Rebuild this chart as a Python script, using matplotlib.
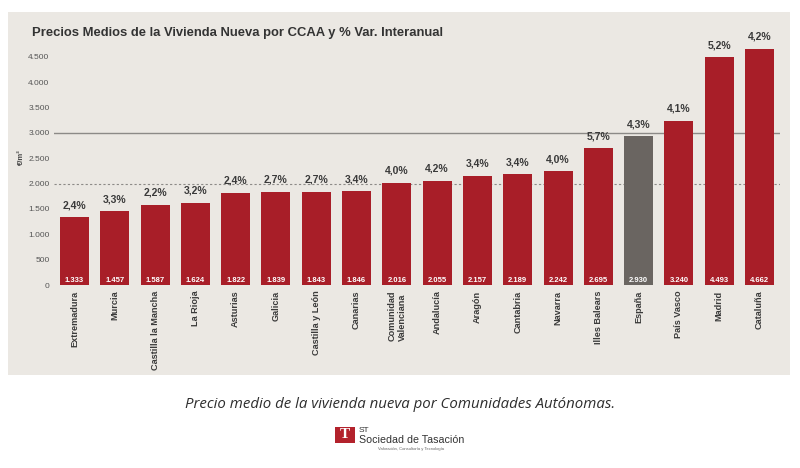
import matplotlib.pyplot as plt
from matplotlib.patches import Rectangle
import numpy as np

plt.rcParams['font.family'] = ['Liberation Sans', 'DejaVu Sans']

# data
regions = ['Extremadura', 'Murcia', 'Castilla la Mancha', 'La Rioja', 'Asturias',
           'Galicia', 'Castilla y León', 'Canarias', 'Comunidad\nValenciana',
           'Andalucía', 'Aragón', 'Cantabria', 'Navarra', 'Illes Balears',
           'España', 'País Vasco', 'Madrid', 'Cataluña']
prices = [1333, 1457, 1587, 1624, 1822, 1839, 1843, 1846, 2016,
          2055, 2157, 2189, 2242, 2695, 2930, 3240, 4493, 4662]
yoy = ['2,4%', '3,3%', '2,2%', '3,2%', '2,4%', '2,7%', '2,7%', '3,4%', '4,0%',
       '4,2%', '3,4%', '3,4%', '4,0%', '5,7%', '4,3%', '4,1%', '5,2%', '4,2%']
yticks = [0, 500, 1000, 1500, 2000, 2500, 3000, 3500, 4000, 4500]

RED = '#A81E28'
GREY_BAR = '#6A6561'
PANEL = '#EBE8E3'

fig = plt.figure(figsize=(8, 4.68), dpi=100)
fig.patch.set_facecolor('white')

# grey panel behind the chart
panel = Rectangle((8/800, 1-375/468), 782/800, 363/468, transform=fig.transFigure,
                  facecolor=PANEL, edgecolor='none', zorder=-1)
fig.patches.append(panel)

ax = fig.add_axes([54.3/800, 1-285/468, 725.4/800, 253.5/468])
ax.set_facecolor('none')
x = np.arange(len(regions))
colors = [GREY_BAR if r == 'España' else RED for r in regions]
ax.bar(x, prices, width=0.72, color=colors, zorder=3)

ax.set_xlim(-0.5, len(regions) - 0.5)
ax.set_ylim(0, 5000)

# reference lines
ax.axhline(3000, color='#8C8A87', lw=1.0, zorder=1)
ax.axhline(2000, color='#8C8A87', lw=0.8, ls=(0, (2, 2)), zorder=1)

for xi, p, v in zip(x, prices, yoy):
    ax.annotate(v, (xi, p), xytext=(0, 5), textcoords='offset points',
                ha='center', va='bottom', fontsize=7.5, fontweight='bold', color='#3A3A3A')
    ax.text(xi, 90, f'{p:,}'.replace(',', '.'), ha='center', va='center',
            fontsize=5.5, fontweight='bold', color='white', zorder=4)

ax.set_yticks(yticks)
ax.set_yticklabels([f'{t:,}'.replace(',', '.') for t in yticks], fontsize=6, color='#555555')
ax.tick_params(axis='y', length=0, pad=3.5)
ax.set_xticks(x)
ax.set_xticklabels(regions, rotation=90, fontsize=6.6, fontweight='bold', color='#3A3A3A',
                   va='top', ha='center', multialignment='left')
ax.tick_params(axis='x', length=0, pad=4)
for s in ax.spines.values():
    s.set_visible(False)

fig.text(21/800, 1-157/468, '€/m²', rotation=90, ha='center', va='center',
         fontsize=5.5, fontweight='bold', color='#444444')

fig.text(32/800, 1-33/468, 'Precios Medios de la Vivienda Nueva por CCAA y % Var. Interanual',
         ha='left', va='center', fontsize=9.4, fontweight='bold', color='#333333')

# caption and logo below the panel
fig.text(0.5, 1-405/468, 'Precio medio de la vivienda nueva por Comunidades Autónomas.',
         ha='center', va='center', fontsize=10.8, style='italic', color='#2E2E2E',
         family=['Open Sans', 'DejaVu Sans'])

logo = Rectangle((335/800, 1-443/468), 20/800, 16/468, transform=fig.transFigure,
                 facecolor='#B3222C', edgecolor='none')
fig.patches.append(logo)
fig.text(345/800, 1-435/468, 'T', ha='center', va='center', fontsize=11,
         fontweight='bold', color='white', family='Liberation Serif')
fig.text(359/800, 1-430/468, 'ST', ha='left', va='center', fontsize=6, color='#333333')
fig.text(359/800, 1-440/468, 'Sociedad de Tasación', ha='left', va='center',
         fontsize=7.7, color='#333333')
fig.text(378/800, 1-449/468, 'Valoración, Consultoría y Tecnología', ha='left', va='center',
         fontsize=3, color='#666666')

fig.savefig('out.png', dpi=100, facecolor='white')
